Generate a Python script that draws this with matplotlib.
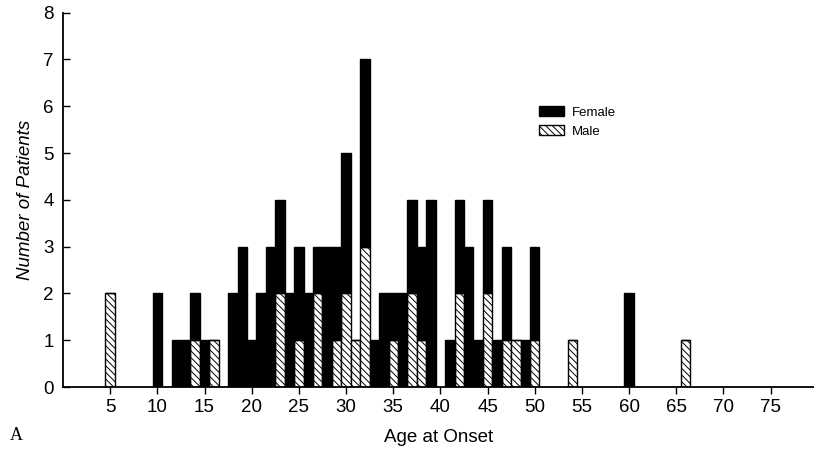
import matplotlib
matplotlib.use("Agg")
import matplotlib.pyplot as plt
from matplotlib import font_manager
from matplotlib.patches import Patch

# patients per age at onset
ages = [5, 10, 12, 13, 14, 15, 16, 18, 19, 20, 21, 22, 23, 24, 25, 26, 27, 28,
        29, 30, 31, 32, 33, 34, 35, 36, 37, 38, 39, 41, 42, 43, 44, 45, 46, 47,
        48, 49, 50, 54, 60, 66]
male = [2, 0, 0, 0, 1, 0, 1, 0, 0, 0, 0, 0, 2, 0, 1, 0, 2, 0,
        1, 2, 1, 3, 0, 0, 1, 0, 2, 1, 0, 0, 2, 0, 0, 2, 0, 1,
        1, 0, 1, 1, 0, 1]
female = [0, 2, 1, 1, 1, 1, 0, 2, 3, 1, 2, 3, 2, 2, 2, 2, 1, 3,
          2, 3, 0, 4, 1, 2, 1, 2, 2, 2, 4, 1, 2, 3, 1, 2, 1, 2,
          0, 1, 2, 0, 2, 0]
xticks = list(range(5, 80, 5))
yticks = list(range(0, 9))

names = {f.name for f in font_manager.fontManager.ttflist}
sans = 'Liberation Sans Narrow' if 'Liberation Sans Narrow' in names else 'Liberation Sans'
plt.rcParams['font.family'] = sans
plt.rcParams['hatch.linewidth'] = 0.7

fig = plt.figure(figsize=(8.14, 4.5), dpi=100)
ax = fig.add_axes([0.078, 0.14, 0.922, 0.832])

ax.bar(ages, male, width=1.0, color='white', edgecolor='black',
       linewidth=1.0, hatch='\\\\\\\\\\')
ax.bar(ages, female, width=1.0, bottom=male, color='black',
       edgecolor='black', linewidth=1.0)

ax.set_xlim(0.05, 79.6)
ax.set_ylim(0, 8)
ax.set_xticks(xticks)
ax.set_yticks(yticks)
ax.tick_params(axis='x', direction='out', length=5, width=1, labelsize=13.5, pad=4)
ax.tick_params(axis='y', direction='in', length=5, width=1, labelsize=13.5, pad=7)
for side in ('top', 'right'):
    ax.spines[side].set_visible(False)
for side in ('left', 'bottom'):
    ax.spines[side].set_linewidth(1.3)

ax.set_xlabel('Age at Onset', fontsize=13.5, labelpad=9)
ax.set_ylabel('Number of Patients', fontsize=13.5, style='italic', labelpad=7,
              family='Liberation Sans')

handles = [Patch(facecolor='black', edgecolor='black', label='Female'),
           Patch(facecolor='white', edgecolor='black', hatch='\\\\\\\\\\', label='Male')]
ax.legend(handles=handles, frameon=False, loc='upper left',
          bbox_to_anchor=(0.618, 0.782), handlelength=1.9,
          handleheight=0.8, handletextpad=0.6, labelspacing=0.5,
          prop={'family': 'Liberation Sans', 'size': 9.5})

fig.text(0.012, 0.022, 'A', family='Liberation Serif', fontsize=13)

fig.savefig('out.png', dpi=100)
